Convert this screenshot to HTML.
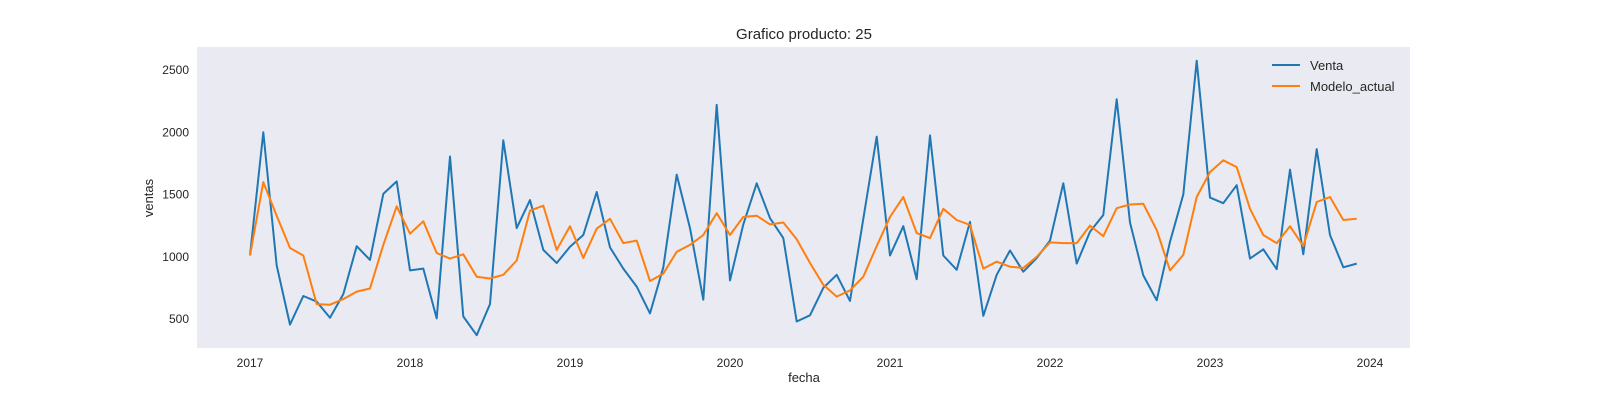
<!DOCTYPE html>
<html><head><meta charset="utf-8"><style>
body{margin:0;background:#fff;font-family:"Liberation Sans",Arial,sans-serif}
svg text{font-family:"Liberation Sans",Arial,sans-serif;fill:#262626}
</style></head><body>
<svg id="chart" width="1600" height="400" xmlns="http://www.w3.org/2000/svg">
<rect x="197" y="47" width="1213" height="301" fill="#eaeaf2"/>
<text x="804" y="39" font-size="15" text-anchor="middle">Grafico producto: 25</text>
<text x="804" y="382" font-size="13" text-anchor="middle">fecha</text>
<text x="153" y="198" font-size="13" text-anchor="middle" transform="rotate(-90 153 198)">ventas</text>
<g id="xt"></g><g id="yt"></g><g id="lines"></g>
<g>
<line x1="1272" y1="65" x2="1300" y2="65" stroke="#1f77b4" stroke-width="2"/>
<text x="1310" y="70" font-size="13">Venta</text>
<line x1="1272" y1="86" x2="1300" y2="86" stroke="#ff7f0e" stroke-width="2"/>
<text x="1310" y="91" font-size="13">Modelo_actual</text>
</g>
</svg>
<script>
const years=[2017,2018,2019,2020,2021,2022,2023,2024];
const yTicks=[500,1000,1500,2000,2500];
const venta=[1010,2000,930,455,685,640,510,700,1085,975,1505,1605,
890,905,505,1805,520,370,620,1935,1230,1455,1055,950,
1080,1175,1520,1075,905,760,545,915,1660,1230,655,2220,
810,1260,1590,1310,1150,480,530,750,855,645,1305,1965,
1010,1245,820,1975,1010,895,1280,525,855,1050,880,990,
1130,1590,945,1200,1335,2265,1275,850,650,1120,1500,2575,
1475,1430,1575,985,1060,900,1700,1020,1865,1175,915,945];
const modelo=[1010,1600,1330,1070,1010,620,615,660,720,745,1095,1405,
1185,1285,1030,985,1020,840,825,855,970,1370,1410,1055,
1245,990,1225,1305,1110,1130,805,865,1040,1095,1175,1350,
1175,1320,1330,1260,1275,1140,950,775,680,730,840,1085,
1320,1480,1190,1150,1385,1295,1255,905,960,920,910,1000,
1115,1110,1110,1250,1165,1390,1420,1425,1215,890,1015,1480,
1680,1775,1720,1385,1175,1110,1245,1085,1440,1480,1295,1305];
const NS="http://www.w3.org/2000/svg";
function xs(m){return 250+m*160/12;}
function ys(v){return 319-(v-500)*249/2000;}
const xt=document.getElementById('xt'),yt=document.getElementById('yt'),lg=document.getElementById('lines');
years.forEach((y,i)=>{const t=document.createElementNS(NS,'text');


t.setAttribute('x',xs(i*12));t.setAttribute('y',367);t.setAttribute('font-size','12');t.setAttribute('text-anchor','middle');t.textContent=y;xt.appendChild(t);});
yTicks.forEach(v=>{const t=document.createElementNS(NS,'text');


t.setAttribute('x',189);t.setAttribute('y',ys(v)+4);t.setAttribute('font-size','12');t.setAttribute('text-anchor','end');t.textContent=v;yt.appendChild(t);});
function draw(arr,color,name){const p=document.createElementNS(NS,'polyline');


p.setAttribute('points',arr.map((v,i)=>xs(i).toFixed(1)+','+ys(v).toFixed(1)).join(' '));
p.setAttribute('fill','none');p.setAttribute('stroke',color);p.setAttribute('stroke-width','2');p.setAttribute('stroke-linejoin','round');lg.appendChild(p);}
draw(venta,'#1f77b4','venta-line');
draw(modelo,'#ff7f0e','modelo-line');
</script>
</body></html>
